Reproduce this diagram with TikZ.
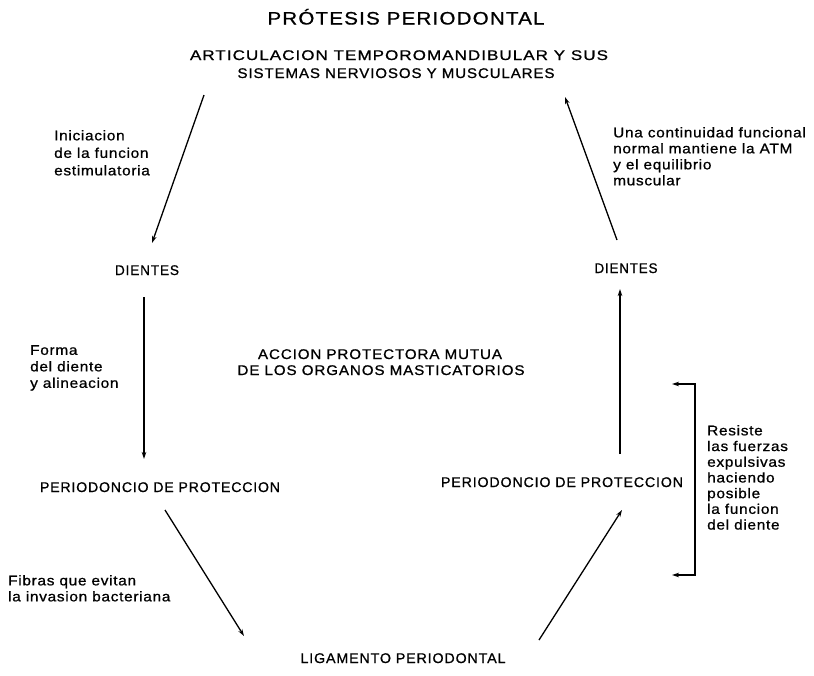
\documentclass[tikz,border=0pt]{standalone}
\usepackage{fontspec}
\setmainfont{Liberation Sans}
\newfontfamily\capfont[FakeBold=0.8,LetterSpace=6]{Liberation Sans}
\newfontfamily\lcfont[FakeStretch=1.1,LetterSpace=5,FakeBold=0.8]{Liberation Sans}
\usetikzlibrary{arrows.meta}
\newcommand\fitw[2]{\resizebox{#1}{\height}{#2}}
\begin{document}
\begin{tikzpicture}[x=1pt,y=-1pt,
  capt/.style={inner sep=0pt,anchor=base,font=\capfont\fontsize{14}{14}\selectfont},
  lab/.style={inner sep=0pt,anchor=north west,align=left,font=\lcfont\fontsize{14}{16}\selectfont},
  conn/.style={line width=1.3pt,-{Stealth[length=7pt,width=4.5pt]}},
  brk/.style={line width=1.3pt,{Stealth[length=7pt,width=4.5pt]}-{Stealth[length=7pt,width=4.5pt]}}]
\useasboundingbox[fill=white] (0,0) rectangle (814,675);

% title and main labels
\node[capt,font=\capfont\fontsize{18}{18}\selectfont] (title) at (406,24.5) {\fitw{277pt}{PRÓTESIS PERIODONTAL}};
\node[capt] (atm1) at (399,60) {\fitw{418pt}{ARTICULACION TEMPOROMANDIBULAR Y SUS}};
\node[capt] (atm2) at (396,78) {\fitw{317pt}{SISTEMAS NERVIOSOS Y MUSCULARES}};
\node[capt] (dL) at (147,275) {\fitw{64pt}{DIENTES}};
\node[capt] (dR) at (626,273) {\fitw{63pt}{DIENTES}};
\node[capt] (acc1) at (380,359) {\fitw{244pt}{ACCION PROTECTORA MUTUA}};
\node[capt] (acc2) at (381,375) {\fitw{287pt}{DE LOS ORGANOS MASTICATORIOS}};
\node[capt] (pL) at (160,492) {\fitw{240pt}{PERIODONCIO DE PROTECCION}};
\node[capt] (pR) at (562,487) {\fitw{242pt}{PERIODONCIO DE PROTECCION}};
\node[capt] (lig) at (403,663) {\fitw{205pt}{LIGAMENTO PERIODONTAL}};

% side labels
\node[lab,font=\lcfont\fontsize{14}{17.5}\selectfont] (ini) at (54,130) {Iniciacion\\de la funcion\\estimulatoria};
\node[lab] (una) at (613,127) {Una continuidad funcional\\normal mantiene la ATM\\y el equilibrio\\muscular};
\node[lab,font=\lcfont\fontsize{14}{16.5}\selectfont] (forma) at (30,345) {Forma\\del diente\\y alineacion};
\node[lab,font=\lcfont\fontsize{14}{15.7}\selectfont] (res) at (707,425) {Resiste\\las fuerzas\\expulsivas\\haciendo\\posible\\la funcion\\del diente};
\node[lab] (fib) at (8,575) {Fibras que evitan\\la invasion bacteriana};

% connector end points
\coordinate (a1) at (204,95);   \coordinate (a2) at (152,243);
\coordinate (b1) at (617,240);  \coordinate (b2) at (565,97);
\coordinate (c1) at (144,297);  \coordinate (c2) at (144,459);
\coordinate (d1) at (620,454);  \coordinate (d2) at (620,289);
\coordinate (e1) at (165,510);  \coordinate (e2) at (244,636);
\coordinate (f1) at (539,640);  \coordinate (f2) at (622,510);
\coordinate (g1) at (672,384);  \coordinate (g2) at (695,384);
\coordinate (g3) at (695,575);  \coordinate (g4) at (672,575);

\draw[conn] (a1) -- (a2);
\draw[conn] (b1) -- (b2);
\draw[conn] (c1) -- (c2);
\draw[conn] (d1) -- (d2);
\draw[conn] (e1) -- (e2);
\draw[conn] (f1) -- (f2);
\draw[brk] (g1) -- (g2) -- (g3) -- (g4);
\end{tikzpicture}
\end{document}
